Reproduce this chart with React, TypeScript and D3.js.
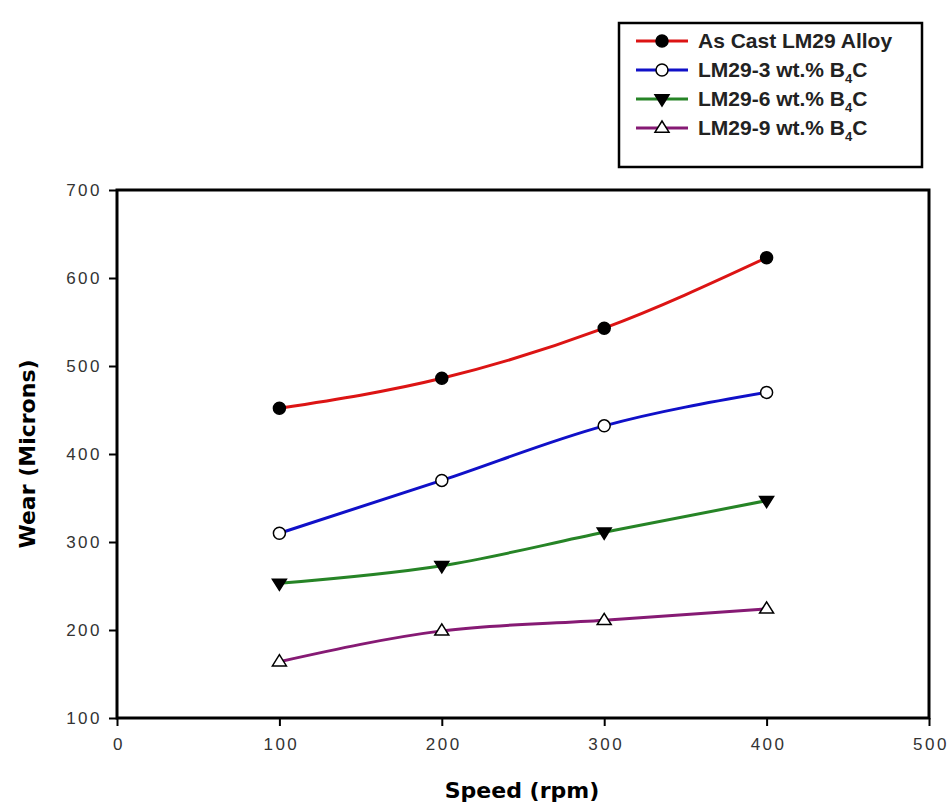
import * as d3 from "d3";
import { useEffect, useRef } from "react";

const speeds = [100, 200, 300, 400];
const asCast = [452, 486, 543, 623];
const b4c3 = [310, 370, 432, 470];
const b4c6 = [253, 273, 311, 347];
const b4c9 = [164, 199, 211, 224];
const xTicks = [0, 100, 200, 300, 400, 500];
const yTicks = [100, 200, 300, 400, 500, 600, 700];

const seriesNames = ["As Cast LM29 Alloy", "LM29-3 wt.% B", "LM29-6 wt.% B", "LM29-9 wt.% B"];
const seriesColors = ["#dc1414", "#1010c8", "#268426", "#861a74"];
const seriesMarkers = ["dot", "ring", "down", "up"];

export default function App() {
  const ref = useRef<SVGSVGElement>(null);

  useEffect(() => {
    const svg = d3.select(ref.current);
    svg.selectAll("*").remove();

    const left = 117, right = 929, top = 190, bottom = 718;
    const x = d3.scaleLinear().domain([0, 500]).range([left, right]);
    const y = d3.scaleLinear().domain([100, 700]).range([bottom, top]);
    const font = "'Liberation Sans', Arial, sans-serif";
    const titleFont = "'DejaVu Sans', Verdana, sans-serif";

    const allSeries = [asCast, b4c3, b4c6, b4c9];

    // frame
    svg.append("rect")
      .attr("x", left).attr("y", top)
      .attr("width", right - left).attr("height", bottom - top)
      .attr("fill", "none").attr("stroke", "#000").attr("stroke-width", 3);

    // x axis
    const gx = svg.append("g").attr("transform", `translate(0,${bottom})`)
      .call(d3.axisBottom(x).tickValues(xTicks).tickSize(8).tickPadding(12).tickFormat(d3.format("d")));
    gx.select(".domain").remove();
    gx.selectAll("line").attr("stroke", "#000").attr("stroke-width", 2);
    gx.selectAll("text").attr("font-family", font).attr("font-size", 17).attr("fill", "#333")
      .attr("letter-spacing", 2.5).attr("dx", 1.5);

    // y axis
    const gy = svg.append("g").attr("transform", `translate(${left},0)`)
      .call(d3.axisLeft(y).tickValues(yTicks).tickSize(8).tickPadding(7).tickFormat(d3.format("d")));
    gy.select(".domain").remove();
    gy.selectAll("line").attr("stroke", "#000").attr("stroke-width", 2);
    gy.selectAll("text").attr("font-family", font).attr("font-size", 17).attr("fill", "#333")
      .attr("letter-spacing", 2.5);

    // titles
    svg.append("text").attr("x", 522).attr("y", 798)
      .attr("text-anchor", "middle").attr("font-family", titleFont).attr("font-weight", "bold")
      .attr("font-size", 22).text("Speed (rpm)");
    svg.append("text").attr("transform", `translate(35,${(top + bottom) / 2}) rotate(-90)`)
      .attr("text-anchor", "middle").attr("font-family", titleFont).attr("font-weight", "bold")
      .attr("font-size", 22).text("Wear (Microns)");

    const line = d3.line<number>()
      .x((d, i) => x(speeds[i]))
      .y(d => y(d))
      .curve(d3.curveMonotoneX);

    function marker(g: any, kind: string, cx: number, cy: number) {
      if (kind === "dot" || kind === "ring") {
        g.append("circle").attr("cx", cx).attr("cy", cy).attr("r", 6)
          .attr("fill", kind === "dot" ? "#000" : "#fff")
          .attr("stroke", "#000").attr("stroke-width", 1.5);
      } else {
        const s = 7;
        const pts = kind === "down"
          ? [[cx - s, cy - s * 0.6], [cx + s, cy - s * 0.6], [cx, cy + s]]
          : [[cx - s, cy + s * 0.6], [cx + s, cy + s * 0.6], [cx, cy - s]];
        g.append("polygon").attr("points", pts.map(p => p.join(",")).join(" "))
          .attr("fill", kind === "down" ? "#000" : "#fff")
          .attr("stroke", "#000").attr("stroke-width", 1.5);
      }
    }

    allSeries.forEach((vals, si) => {
      svg.append("path").datum(vals).attr("d", line)
        .attr("fill", "none").attr("stroke", seriesColors[si]).attr("stroke-width", 3);
      const g = svg.append("g");
      vals.forEach((v, i) => marker(g, seriesMarkers[si], x(speeds[i]), y(v)));
    });

    // legend
    const lg = svg.append("g");
    lg.append("rect").attr("x", 619).attr("y", 23).attr("width", 303).attr("height", 144)
      .attr("fill", "#fff").attr("stroke", "#000").attr("stroke-width", 2.5);
    seriesNames.forEach((name, i) => {
      const ly = 41 + i * 29;
      lg.append("line").attr("x1", 636).attr("x2", 688).attr("y1", ly).attr("y2", ly)
        .attr("stroke", seriesColors[i]).attr("stroke-width", 3);
      marker(lg, seriesMarkers[i], 662, ly);
      const t = lg.append("text").attr("x", 698).attr("y", ly + 7)
        .attr("font-family", font).attr("font-weight", "bold").attr("font-size", 21).attr("fill", "#222");
      t.append("tspan").text(name);
      if (i > 0) {
        t.append("tspan").attr("font-size", 13).attr("dy", 6).text("4");
        t.append("tspan").attr("dy", -6).text("C");
      }
    });
  }, []);

  return (
    <svg ref={ref} width={950} height={805}
      style={{ position: "absolute", left: 0, top: 0, background: "#fff" }} />
  );
}
